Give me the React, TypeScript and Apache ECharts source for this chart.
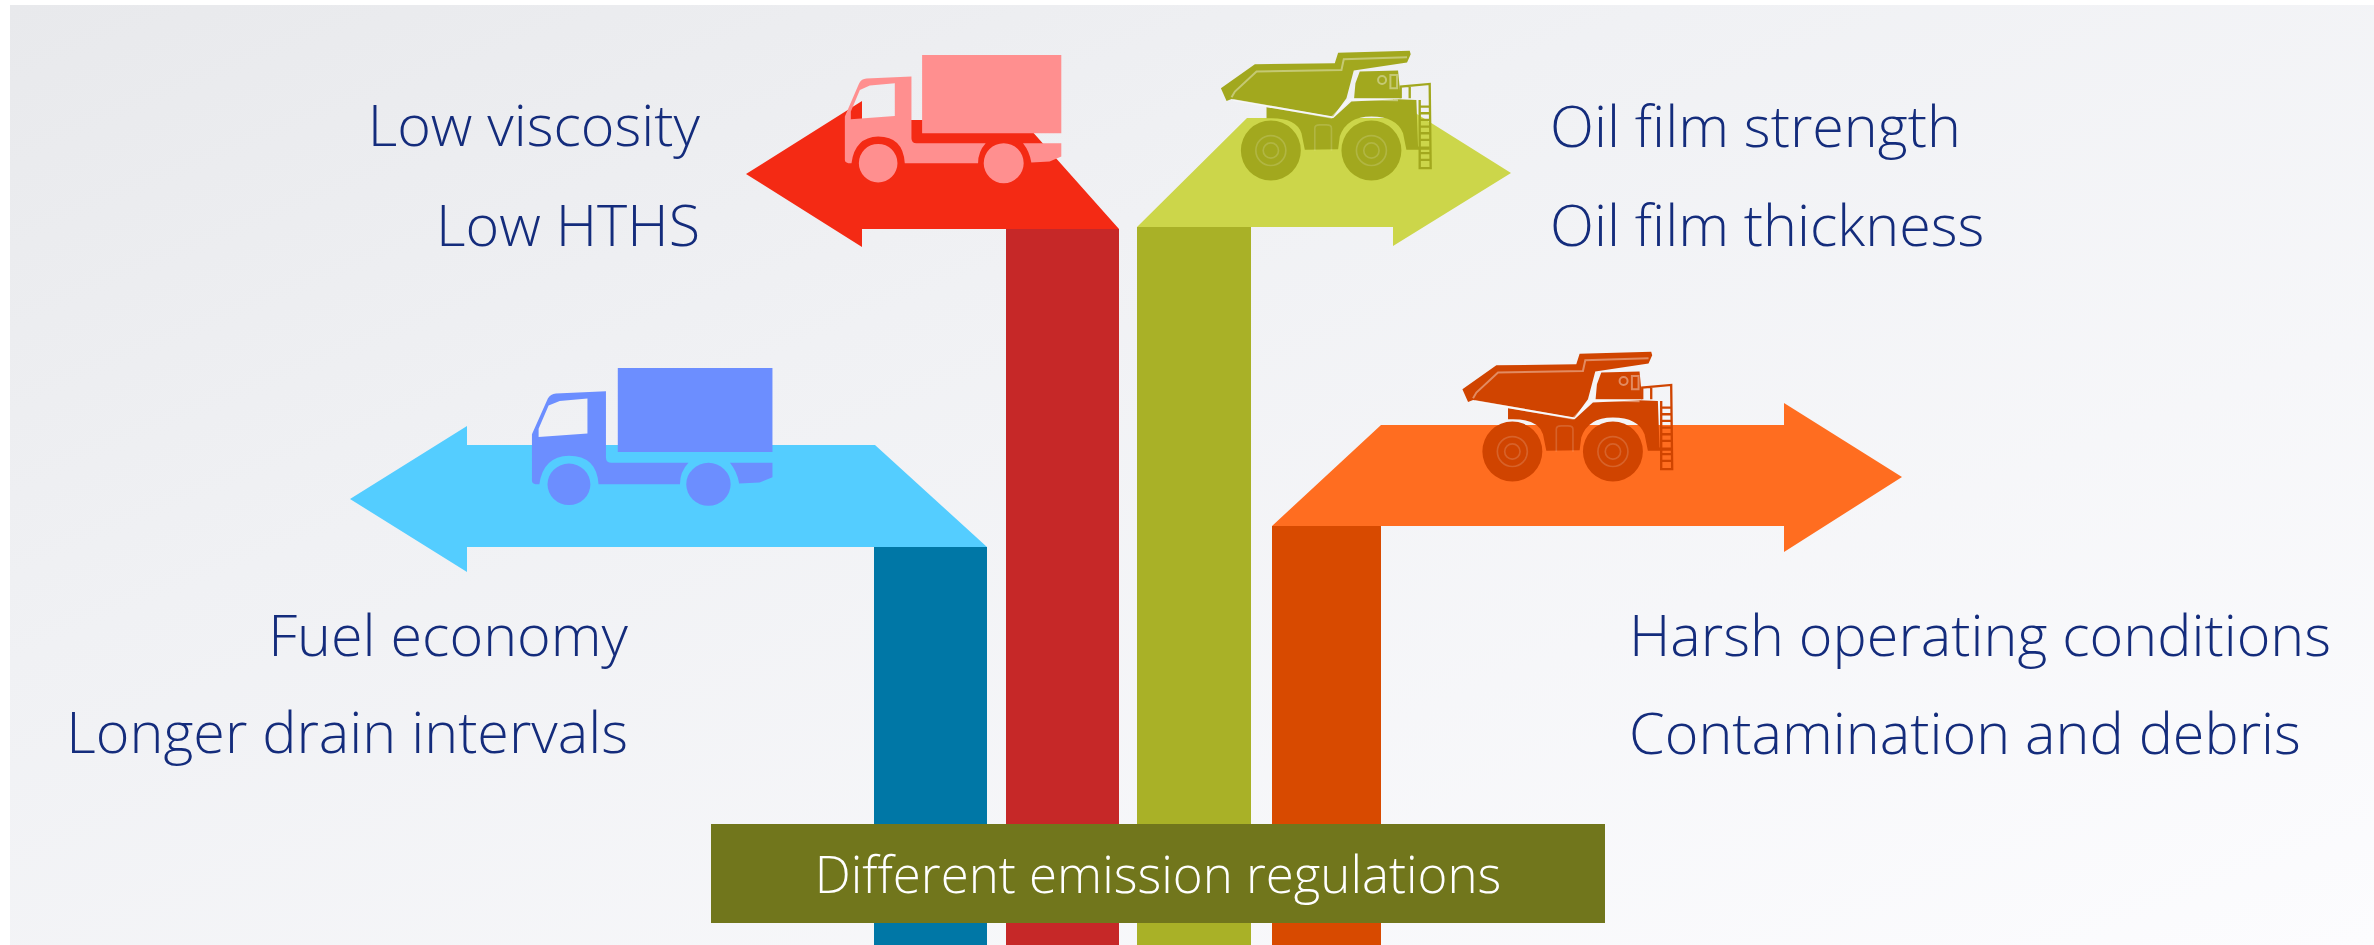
import React, { useEffect, useRef } from "react";
import * as echarts from "echarts";

const W = 2374;
const H = 945;

const stemNames = ["blue", "red", "olive", "orange"];
const stemColors = ["#0077a6", "#c62828", "#a9b127", "#d84a00"];
const stemLeft = [874, 1006, 1137, 1272];
const stemRight = [987, 1119, 1251, 1381];
const stemTop = [547, 229, 227, 526];

const arrowColors = ["#54cdff", "#f42a14", "#ccd64a", "#ff6d20"];
const arrowBlue = [[350, 499], [467, 426], [467, 445], [875, 445], [987, 547], [467, 547], [467, 572]];
const arrowRed = [[746, 174], [862, 101], [862, 120], [1022, 120], [1119, 229], [862, 229], [862, 247]];
const arrowOlive = [[1137, 227], [1247, 118], [1393, 118], [1393, 99], [1511, 173], [1393, 246], [1393, 227]];
const arrowOrange = [[1272, 526], [1381, 425], [1784, 425], [1784, 403], [1902, 477], [1784, 552], [1784, 526]];
const arrows = [arrowBlue, arrowRed, arrowOlive, arrowOrange];

const cargoTruckPath =
  "M667 105L1085 105L1085 340L667 340Z" +
  "M435 420L435 290L478 190Q485 177 500 176L635 170L635 355Q635 370 650 370L858 370Q835 395 835 430L615 430Q610 350 535 350Q465 352 455 430L445 430Q435 428 435 420Z" +
  "M585 190L510 197L480 210L453 275L453 298L585 288Z" +
  "M970 370L1085 370L1085 410L1050 425L995 428Q990 395 970 370Z" +
  "M477 430A58 58 0 1 0 593 430A58 58 0 1 0 477 430Z" +
  "M852 430A60 60 0 1 0 972 430A60 60 0 1 0 852 430Z";
const cargoColors = ["#6c8eff", "#ff8f8f"];
const cargoX = [371, 700];
const cargoY = [330.4, 20];
const cargoScaleX = [1.11 / 3, 1 / 3];
const cargoScaleY = [1.075 / 3, 1 / 3];

const dumpBody =
  "M303 205L405 133L645 130L655 98L870 92L873 103L862 128L702 152L680 235L640 290L335 237L320 243Z" +
  "M440 262L640 295L695 245L835 238L890 240L895 380L930 380L930 390L860 390L850 340Q830 290 755 290Q680 290 660 350L655 388L555 390L545 340Q530 295 455 295L440 295Z" +
  "M703 235L707 190L720 155L835 152L843 235Z" +
  "M363 392A90 90 0 1 0 543 392A90 90 0 1 0 363 392Z" +
  "M665 392A90 90 0 1 0 845 392A90 90 0 1 0 665 392Z";
const dumpLight =
  "M335 232L345 215L410 155L665 150L672 118L862 112" +
  "M340 240L635 293L690 238L835 241" +
  "M775 180A12 12 0 1 0 799 180A12 12 0 1 0 775 180Z" +
  "M812 165L832 165L832 205L812 205Z";
const dumpFaint =
  "M585 392L585 325Q585 315 600 315L620 315Q635 315 635 325L635 392" +
  "M408 392A45 45 0 1 0 498 392A45 45 0 1 0 408 392Z" +
  "M430 392A23 23 0 1 0 476 392A23 23 0 1 0 430 392Z" +
  "M710 392A45 45 0 1 0 800 392A45 45 0 1 0 710 392Z" +
  "M732 392A23 23 0 1 0 778 392A23 23 0 1 0 732 392Z";
const dumpLadder =
  "M843 235L843 200L930 192L933 445L900 445L900 240" +
  "M870 200L870 235M900 260L933 260M900 280L933 280M900 300L933 300M900 320L933 320" +
  "M900 340L933 340M900 360L933 360M900 400L933 400M900 420L933 420";
const dumpColors = ["#a2a81e", "#d04400"];
const dumpX = [1120, 1361.5];
const dumpY = [20, 321];

const leftLabels = ["Low viscosity", "Low HTHS", "Fuel economy", "Longer drain intervals"];
const leftLabelX = [700, 700, 628, 628];
const leftLabelY = [124, 224, 634, 731];
const rightLabels = ["Oil film strength", "Oil film thickness", "Harsh operating conditions", "Contamination and debris"];
const rightLabelX = [1550, 1550, 1629, 1629];
const rightLabelY = [125, 224, 634, 732];
const banner = "Different emission regulations";

const FONT = "'Open Sans', sans-serif";
const NAVY = "#142c7c";

function App() {
  const ref = useRef<HTMLDivElement>(null);
  useEffect(() => {
    const chart = echarts.init(ref.current!, null, { renderer: "svg" });
    const custom = (name: string, count: number, z: number, renderItem: any) => ({
      type: "custom",
      name,
      z,
      clip: false,
      silent: true,
      coordinateSystem: "cartesian2d",
      data: Array.from({ length: count }, (_, i) => [i, 0]),
      renderItem,
    });
    const rectFrom = (api: any, x0: number, y0: number, x1: number, y1: number) => {
      const a = api.coord([x0, y0]);
      const b = api.coord([x1, y1]);
      return { x: a[0], y: a[1], width: b[0] - a[0], height: b[1] - a[1] };
    };
    chart.setOption({
      animation: false,
      backgroundColor: "#ffffff",
      grid: { left: 0, right: 0, top: 0, bottom: 0 },
      xAxis: { type: "value", min: 0, max: W, show: false },
      yAxis: { type: "value", min: 0, max: H, inverse: true, show: false },
      tooltip: { show: false },
      series: [
        custom("background", 1, 1, (_: any, api: any) => ({
          type: "rect",
          shape: rectFrom(api, 10, 5, W, H),
          style: {
            fill: new echarts.graphic.LinearGradient(0, 0, 1, 1, [
              { offset: 0, color: "#e8e9ec" },
              { offset: 0.35, color: "#f0f1f4" },
              { offset: 1, color: "#fcfcfe" },
            ]),
          },
        })),
        custom(stemNames.join(" "), stemNames.length, 2, (p: any, api: any) => {
          const i = p.dataIndex;
          return {
            type: "rect",
            shape: rectFrom(api, stemLeft[i], stemTop[i], stemRight[i], H),
            style: { fill: stemColors[i] },
          };
        }),
        custom("arrows", arrows.length, 3, (p: any, api: any) => ({
          type: "polygon",
          shape: { points: arrows[p.dataIndex].map((q) => api.coord(q)) },
          style: { fill: arrowColors[p.dataIndex] },
        })),
        custom("cargo trucks", 2, 4, (p: any, api: any) => {
          const i = p.dataIndex;
          const o = api.coord([cargoX[i], cargoY[i]]);
          return {
            type: "path",
            x: o[0],
            y: o[1],
            scaleX: cargoScaleX[i],
            scaleY: cargoScaleY[i],
            shape: { pathData: cargoTruckPath },
            style: { fill: cargoColors[i] },
          };
        }),
        custom("dump trucks", 2, 4, (p: any, api: any) => {
          const i = p.dataIndex;
          const o = api.coord([dumpX[i], dumpY[i]]);
          const base = { x: o[0], y: o[1], scaleX: 1 / 3, scaleY: 1 / 3 };
          return {
            type: "group",
            children: [
              { type: "path", ...base, shape: { pathData: dumpBody }, style: { fill: dumpColors[i] } },
              {
                type: "path",
                ...base,
                shape: { pathData: dumpLadder },
                style: { fill: "none", stroke: dumpColors[i], lineWidth: 7 },
              },
              {
                type: "path",
                ...base,
                shape: { pathData: dumpLight },
                style: { fill: "none", stroke: "rgba(255,255,255,0.38)", lineWidth: 6 },
              },
              {
                type: "path",
                ...base,
                shape: { pathData: dumpFaint },
                style: { fill: "none", stroke: "rgba(255,255,255,0.16)", lineWidth: 5 },
              },
            ],
          };
        }),
        custom("banner", 1, 5, (_: any, api: any) => ({
          type: "rect",
          shape: rectFrom(api, 711, 824, 1605, 923),
          style: { fill: "#71761c" },
        })),
        custom("banner text", 1, 6, (_: any, api: any) => {
          const c = api.coord([1158, 873]);
          return {
            type: "text",
            style: {
              text: banner,
              x: c[0],
              y: c[1],
              fill: "#ffffff",
              fontFamily: FONT,
              fontWeight: 300,
              fontSize: 51,
              align: "center",
              verticalAlign: "middle",
            },
          };
        }),
        custom("left labels", leftLabels.length, 6, (p: any, api: any) => {
          const i = p.dataIndex;
          const c = api.coord([leftLabelX[i], leftLabelY[i]]);
          return {
            type: "text",
            style: {
              text: leftLabels[i],
              x: c[0],
              y: c[1],
              fill: NAVY,
              fontFamily: FONT,
              fontWeight: 300,
              fontSize: 57.5,
              align: "right",
              verticalAlign: "middle",
            },
          };
        }),
        custom("right labels", rightLabels.length, 6, (p: any, api: any) => {
          const i = p.dataIndex;
          const c = api.coord([rightLabelX[i], rightLabelY[i]]);
          return {
            type: "text",
            style: {
              text: rightLabels[i],
              x: c[0],
              y: c[1],
              fill: NAVY,
              fontFamily: FONT,
              fontWeight: 300,
              fontSize: 57.5,
              align: "left",
              verticalAlign: "middle",
            },
          };
        }),
      ],
    });
    return () => chart.dispose();
  }, []);
  return <div ref={ref} style={{ position: "absolute", left: 0, top: 0, width: W, height: H }} />;
}

export default App;
